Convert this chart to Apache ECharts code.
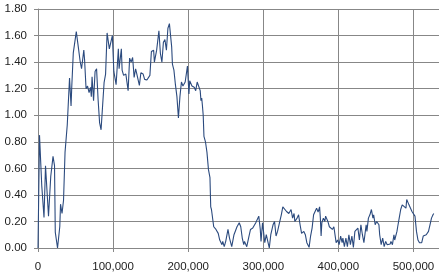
<!DOCTYPE html>
<html>
<head>
<meta charset="utf-8">
<script src="https://cdn.jsdelivr.net/npm/echarts@6/dist/echarts.min.js"></script>
<style>html,body{margin:0;padding:0;background:#fff}#c{width:439px;height:276px}</style>
</head>
<body>
<div id="c"></div>
<script>
var xValues = [0,2000,5000,8000,10000,14000,17000,20000,22000,23000,26000,29000,30000,32000,34000,36000,39000,42000,44000,45000,47000,51000,54000,56000,58000,61000,62000,64000,66000,68000,70000,71000,72000,74000,76000,78000,80000,82000,84000,86000,88000,90000,92000,95000,99000,101000,104000,107000,108000,111000,112000,114000,117000,120000,122000,124000,126000,128000,130000,132000,135000,137000,140000,142000,145000,147000,149000,151000,154000,155000,158000,161000,163000,165000,167000,169000,171000,173000,175000,178000,179000,181000,183000,185000,187000,189000,191000,193000,196000,197000,199000,201000,202000,205000,208000,210000,212000,214000,216000,217000,218000,219000,220000,221000,223000,225000,227000,229000,230000,231000,233000,234000,237000,238000,240000,242000,245000,246000,248000,250000,253000,255000,258000,261000,265000,268000,270000,272000,274000,275000,278000,281000,283000,286000,288000,290000,292000,294000,296000,297000,299000,301000,302000,304000,306000,308000,310000,313000,315000,317000,319000,322000,324000,326000,328000,331000,334000,336000,337000,339000,341000,342000,345000,347000,349000,351000,354000,356000,358000,361000,363000,365000,366000,367000,369000,371000,373000,375000,376000,377000,378000,380000,382000,383000,386000,388000,390000,392000,394000,397000,399000,401000,403000,405000,406000,408000,410000,412000,414000,416000,418000,420000,422000,424000,426000,428000,430000,432000,434000,437000,438000,440000,442000,444000,446000,447000,449000,451000,454000,455000,457000,459000,461000,463000,465000,467000,469000,470000,472000,474000,475000,478000,479000,481000,483000,485000,487000,490000,491000,493000,494000,496000,498000,500000,502000,503000,504000,506000,508000,510000,511000,513000,515000,517000,518000,520000,522000,524000,526000,527000];
var yValues = [0.00,0.85,0.47,0.23,0.62,0.24,0.54,0.69,0.62,0.12,0.00,0.16,0.33,0.26,0.36,0.72,0.93,1.28,1.07,1.22,1.47,1.63,1.50,1.41,1.35,1.49,1.42,1.20,1.22,1.17,1.21,1.14,1.29,1.11,1.33,1.35,1.12,0.945,0.89,1.07,1.245,1.31,1.62,1.50,1.60,1.33,1.23,1.50,1.35,1.50,1.34,1.30,1.31,1.185,1.43,1.40,1.435,1.285,1.35,1.30,1.225,1.32,1.31,1.27,1.265,1.26,1.30,1.48,1.49,1.40,1.49,1.635,1.465,1.40,1.55,1.57,1.49,1.655,1.69,1.515,1.385,1.34,1.23,1.14,0.98,1.14,1.25,1.22,1.25,1.265,1.37,1.16,1.26,1.22,1.21,1.185,1.25,1.245,1.185,1.11,1.13,1.07,1.00,0.84,0.80,0.72,0.59,0.53,0.31,0.29,0.285,0.16,0.14,0.15,0.11,0.06,0.025,0.05,0.01,0.05,0.14,0.075,0.01,0.10,0.16,0.19,0.16,0.075,0.025,0.05,0.01,0.09,0.14,0.15,0.16,0.19,0.18,0.24,0.14,0.05,0.19,0.20,0.04,0.10,0.05,0.00,0.10,0.175,0.20,0.09,0.125,0.20,0.25,0.31,0.30,0.275,0.26,0.25,0.29,0.225,0.26,0.20,0.225,0.25,0.175,0.11,0.125,0.10,0.04,0.005,0.09,0.15,0.20,0.25,0.24,0.30,0.27,0.31,0.225,0.09,0.19,0.225,0.20,0.24,0.20,0.16,0.175,0.14,0.16,0.04,0.06,0.025,0.09,0.04,0.075,0.01,0.075,0.01,0.10,0.025,0.09,0.005,0.125,0.14,0.15,0.06,0.175,0.10,0.04,0.175,0.125,0.225,0.25,0.29,0.225,0.25,0.175,0.20,0.175,0.10,0.025,0.075,0.01,0.05,0.025,0.04,0.03,0.05,0.025,0.10,0.06,0.125,0.16,0.225,0.29,0.325,0.34,0.30,0.365,0.375,0.325,0.325,0.275,0.275,0.24,0.225,0.125,0.06,0.04,0.03,0.04,0.09,0.075,0.10,0.09,0.125,0.175,0.225,0.25,0.26];
var xTickLabels = ['0','100,000','200,000','300,000','400,000','500,000'];
var yTickLabels = ['0.00','0.20','0.40','0.60','0.80','1.00','1.20','1.40','1.60','1.80'];

var points = xValues.map(function (x, i) { return [x, yValues[i]]; });
var grey = '#878787';
var chart = echarts.init(document.getElementById('c'), null, {renderer: 'canvas'});
chart.setOption({
  animation: false,
  backgroundColor: '#ffffff',
  grid: {left: 38, right: 0, top: 9, bottom: 28, containLabel: false},
  xAxis: {
    type: 'value', min: 0, max: 534000, interval: 100000,
    axisLine: {show: true, onZero: false, lineStyle: {color: grey, width: 1}},
    axisTick: {show: true, length: 4, lineStyle: {color: grey}},
    splitLine: {show: true, lineStyle: {color: grey, width: 1}},
    axisLabel: {
      margin: 13, color: '#222', fontFamily: 'Liberation Sans', fontSize: 11.5, showMaxLabel: false,
      formatter: function (v) { var k = Math.round(v / 100000); return (v % 100000 === 0 && xTickLabels[k] !== undefined) ? xTickLabels[k] : ''; }
    }
  },
  yAxis: {
    type: 'value', min: 0, max: 1.8, interval: 0.2,
    axisLine: {show: true, lineStyle: {color: grey, width: 1}},
    axisTick: {show: true, length: 4, lineStyle: {color: grey}},
    splitLine: {show: true, lineStyle: {color: grey, width: 1}},
    axisLabel: {
      margin: 11, color: '#222', fontFamily: 'Liberation Sans', fontSize: 11.5,
      formatter: function (v) { var k = Math.round(v / 0.2); return yTickLabels[k] !== undefined ? yTickLabels[k] : ''; }
    }
  },
  series: [{
    type: 'line', data: points, showSymbol: false, symbol: 'none',
    lineStyle: {color: '#2b4a7e', width: 1.1}, clip: true
  }]
});
</script>
</body>
</html>
